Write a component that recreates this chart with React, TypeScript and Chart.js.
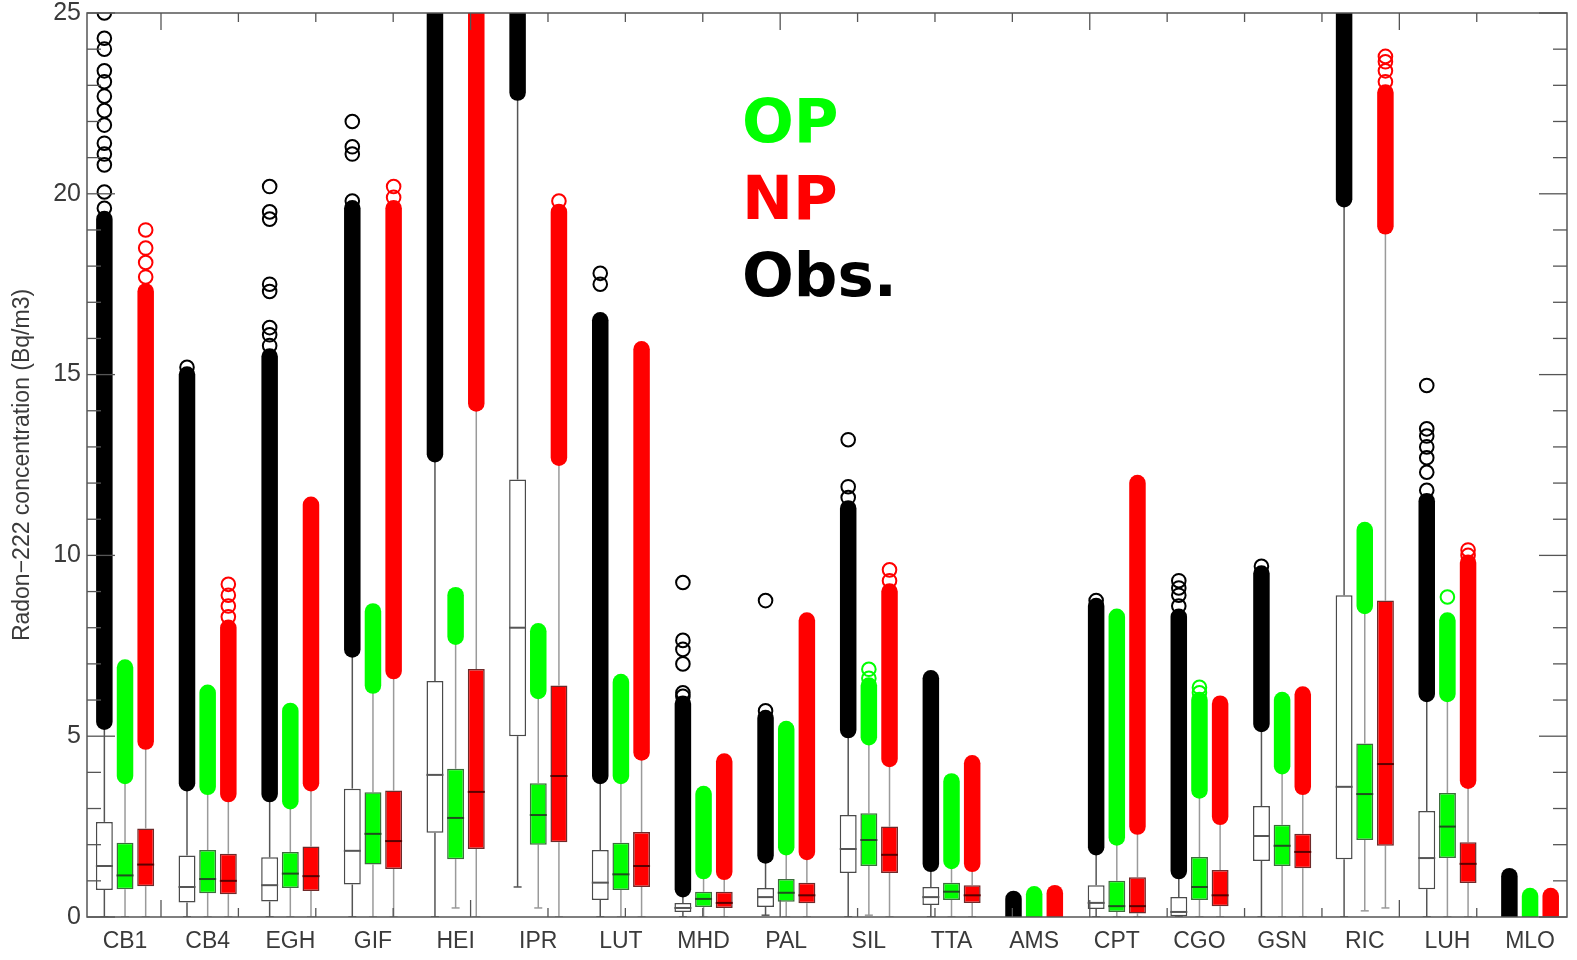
import React, { useEffect, useRef } from 'react';
import { Chart, registerables } from 'chart.js';

Chart.register(...registerables);

// ---------- categories ----------
const stations = ['CB1', 'CB4', 'EGH', 'GIF', 'HEI', 'IPR', 'LUT', 'MHD', 'PAL', 'SIL', 'TTA', 'AMS', 'CPT', 'CGO', 'GSN', 'RIC', 'LUH', 'MLO'];

// axis tick values
const yTickValues = [0, 1, 2, 3, 4, 5, 6, 7, 8, 9, 10, 11, 12, 13, 14, 15, 16, 17, 18, 19, 20, 21, 22, 23, 24, 25];
const yMajorTicks = [0, 5, 10, 15, 20, 25];
const xFrameTicks = [0, 1, 2, 3, 4, 5, 6, 7, 8, 9, 10, 11, 12, 13, 14, 15, 16, 17];
const xFrameMajor = [0, 4, 8, 12, 16];

// ---------- Obs. ----------
const obsWhiskerLow = [0, 0, 0, 0, 0, 0.83, 0, 0, 0.05, 0, 0, null, 0, 0, 0, 0, 0, null];
const obsQ1 = [0.75, 0.4, 0.43, 0.9, 2.33, 5.0, 0.47, 0.14, 0.28, 1.22, 0.33, null, 0.22, 0.02, 1.55, 1.6, 0.77, null];
const obsMedian = [1.41, 0.83, 0.88, 1.83, 3.93, 8.0, 0.95, 0.25, 0.55, 1.88, 0.55, null, 0.39, 0.14, 2.24, 3.6, 1.63, null];
const obsQ3 = [2.63, 1.7, 1.65, 3.55, 6.53, 12.1, 1.85, 0.39, 0.8, 2.82, 0.83, null, 0.88, 0.55, 3.07, 8.9, 2.93, null];
const obsWhiskerHigh = [5.4, 3.7, 3.4, 7.4, 12.8, 22.8, 3.9, 0.77, 1.7, 5.17, 1.47, 0, 1.93, 1.27, 5.34, 19.85, 6.17, 0];
const obsOutlierTop = [19.3, 15.0, 15.5, 19.6, 26, 26, 16.5, 5.9, 5.5, 11.3, 6.6, 0.5, 8.6, 8.3, 9.5, 26, 11.5, 1.13];
const obsSparse = [
  [19.6, 20.05, 20.8, 21.1, 21.4, 21.9, 22.3, 22.7, 23.1, 23.4, 24.0, 24.3, 25.0],
  [15.2],
  [15.8, 16.1, 16.3, 17.3, 17.5, 19.3, 19.5, 20.2],
  [19.8, 21.1, 21.3, 22.0],
  [],
  [],
  [17.5, 17.8],
  [6.1, 6.2, 7.0, 7.4, 7.65, 9.25],
  [5.7, 8.75],
  [11.6, 11.9, 13.2],
  [],
  [],
  [8.75],
  [8.6, 8.9, 9.1, 9.3],
  [9.7],
  [],
  [11.8, 12.3, 12.7, 13.0, 13.3, 13.5, 14.7],
  [],
];

// ---------- OP ----------
const opWhiskerLow = [0, 0, 0, 0, 0.25, 0.25, 0, 0, 0, 0.05, 0, null, 0, 0, 0, 0.17, 0, null];
const opQ1 = [0.77, 0.66, 0.8, 1.45, 1.6, 2.0, 0.75, 0.28, 0.42, 1.41, 0.47, null, 0.14, 0.47, 1.41, 2.13, 1.63, null];
const opMedian = [1.15, 1.05, 1.2, 2.3, 2.74, 2.82, 1.18, 0.5, 0.67, 2.13, 0.7, null, 0.3, 0.83, 1.97, 3.4, 2.5, null];
const opQ3 = [2.05, 1.85, 1.8, 3.45, 4.1, 3.7, 2.05, 0.7, 1.05, 2.87, 0.95, null, 1.0, 1.66, 2.55, 4.8, 3.43, null];
const opWhiskerHigh = [3.9, 3.6, 3.2, 6.4, 7.75, 6.25, 3.9, 1.27, 1.93, 4.97, 1.55, 0, 2.2, 3.5, 4.17, 8.6, 6.17, 0];
const opOutlierTop = [6.9, 6.2, 5.7, 8.45, 8.9, 7.9, 6.5, 3.4, 5.2, 6.4, 3.75, 0.63, 8.3, 6.0, 6.0, 10.7, 8.2, 0.58];
const opSparse = [[], [], [], [], [], [], [], [], [], [6.6, 6.85], [], [], [], [6.2, 6.35], [], [], [8.85], []];

// ---------- NP ----------
const npWhiskerLow = [0, 0, 0, 0, 0, 0, 0, 0, 0, 0, 0, null, 0, 0, 0, 0.25, 0, null];
const npQ1 = [0.85, 0.63, 0.72, 1.33, 1.88, 2.07, 0.83, 0.25, 0.38, 1.22, 0.39, null, 0.1, 0.3, 1.35, 1.97, 0.94, null];
const npMedian = [1.45, 1.0, 1.13, 2.1, 3.46, 3.9, 1.41, 0.39, 0.6, 1.72, 0.6, null, 0.3, 0.6, 1.8, 4.23, 1.47, null];
const npQ3 = [2.45, 1.75, 1.95, 3.5, 6.86, 6.4, 2.35, 0.7, 0.95, 2.5, 0.88, null, 1.1, 1.3, 2.3, 8.75, 2.07, null];
const npWhiskerHigh = [4.85, 3.4, 3.7, 6.8, 14.2, 12.7, 4.55, 1.25, 1.8, 4.37, 1.47, 0, 2.5, 2.77, 3.6, 19.1, 3.77, 0];
const npOutlierTop = [17.3, 8.0, 11.4, 19.6, 26, 19.5, 15.7, 4.3, 8.2, 9.0, 4.25, 0.66, 12.0, 5.9, 6.15, 22.8, 9.8, 0.58];
const npSparse = [
  [17.7, 18.1, 18.5, 19.0],
  [8.3, 8.6, 8.9, 9.2],
  [], [19.9, 20.2], [], [19.8], [], [], [], [9.3, 9.6], [], [], [], [], [], [23.1, 23.4, 23.65, 23.8], [10.0, 10.15], [],
];

type Series = {
  label: string;
  color: string;
  boxFill: string;
  boxBorder: string;
  whisker: string;
  median: string;
  wl: (number | null)[];
  q1: (number | null)[];
  med: (number | null)[];
  q3: (number | null)[];
  wh: number[];
  top: number[];
  sparse: number[][];
};

const seriesList: Series[] = [
  { label: 'Obs.', color: '#000000', boxFill: '#ffffff', boxBorder: '#4a4a4a', whisker: '#555555', median: '#555555',
    wl: obsWhiskerLow, q1: obsQ1, med: obsMedian, q3: obsQ3, wh: obsWhiskerHigh, top: obsOutlierTop, sparse: obsSparse },
  { label: 'OP', color: '#00ff00', boxFill: '#00ff00', boxBorder: '#3c6e3c', whisker: '#9a9a9a', median: '#1f4f1f',
    wl: opWhiskerLow, q1: opQ1, med: opMedian, q3: opQ3, wh: opWhiskerHigh, top: opOutlierTop, sparse: opSparse },
  { label: 'NP', color: '#ff0000', boxFill: '#ff0000', boxBorder: '#6e2a2a', whisker: '#9a9a9a', median: '#5a0000',
    wl: npWhiskerLow, q1: npQ1, med: npMedian, q3: npQ3, wh: npWhiskerHigh, top: npOutlierTop, sparse: npSparse },
];

const legendItems = [
  { text: 'OP', color: '#00ff00' },
  { text: 'NP', color: '#ff0000' },
  { text: 'Obs.', color: '#000000' },
];

const line = (ctx: CanvasRenderingContext2D, x1: number, y1: number, x2: number, y2: number) => {
  ctx.beginPath();
  ctx.moveTo(x1, y1);
  ctx.lineTo(x2, y2);
  ctx.stroke();
};

const boxPlugin = {
  id: 'boxExtras',
  beforeDatasetsDraw(chart: any) {
    const { ctx, chartArea } = chart;
    const y = chart.scales.y;
    ctx.save();
    ctx.beginPath();
    ctx.rect(chartArea.left, chartArea.top, chartArea.right - chartArea.left, chartArea.bottom - chartArea.top);
    ctx.clip();
    seriesList.forEach((s, di) => {
      const meta = chart.getDatasetMeta(di);
      meta.data.forEach((el: any, j: number) => {
        const x = el.x;
        if (s.q1[j] != null) {
          ctx.strokeStyle = s.whisker;
          ctx.lineWidth = 1.5;
          ctx.lineCap = 'butt';
          line(ctx, x, y.getPixelForValue(s.wl[j]), x, y.getPixelForValue(s.q1[j]));
          line(ctx, x, y.getPixelForValue(s.q3[j]), x, y.getPixelForValue(s.wh[j]));
          const py = y.getPixelForValue(s.wl[j]);
          line(ctx, x - 4, py, x + 4, py);
        }
        ctx.strokeStyle = s.color;
        ctx.lineCap = 'round';
        ctx.lineWidth = 16.5;
        line(ctx, x, y.getPixelForValue(s.wh[j]), x, y.getPixelForValue(s.top[j]));
        ctx.lineWidth = 2;
        s.sparse[j].forEach((v) => {
          ctx.beginPath();
          ctx.arc(x, y.getPixelForValue(v), 6.8, 0, Math.PI * 2);
          ctx.stroke();
        });
      });
    });
    ctx.restore();
  },
  afterDatasetsDraw(chart: any) {
    const { ctx } = chart;
    const y = chart.scales.y;
    ctx.save();
    seriesList.forEach((s, di) => {
      const meta = chart.getDatasetMeta(di);
      meta.data.forEach((el: any, j: number) => {
        if (s.med[j] == null) return;
        const half = el.width / 2;
        ctx.strokeStyle = s.median;
        ctx.lineWidth = 2;
        const py = y.getPixelForValue(s.med[j]);
        line(ctx, el.x - half, py, el.x + half, py);
      });
    });
    ctx.restore();
  },
  afterDraw(chart: any) {
    const { ctx, chartArea } = chart;
    const { left, right, top, bottom } = chartArea;
    const y = chart.scales.y;
    const x2 = chart.scales.x2;
    ctx.save();
    ctx.strokeStyle = '#555555';
    ctx.lineWidth = 1.5;
    ctx.lineCap = 'butt';
    ctx.strokeRect(left, top, right - left, bottom - top);
    ctx.lineWidth = 1.3;
    yTickValues.forEach((v) => {
      const len = yMajorTicks.includes(v) ? 28 : 14;
      const py = y.getPixelForValue(v);
      line(ctx, left, py, left + len, py);
      line(ctx, right, py, right - len, py);
    });
    xFrameTicks.forEach((k) => {
      const len = xFrameMajor.includes(k) ? 17 : 9;
      const px = x2.getPixelForValue(k);
      line(ctx, px, top, px, top + len);
      line(ctx, px, bottom, px, bottom - len);
    });
    ctx.font = 'bold 61px "DejaVu Sans"';
    ctx.textBaseline = 'alphabetic';
    ctx.textAlign = 'left';
    legendItems.forEach((it, i) => {
      ctx.fillStyle = it.color;
      ctx.fillText(it.text, 742, 142 + i * 77);
    });
    ctx.restore();
  },
};

export default function App() {
  const ref = useRef<HTMLCanvasElement | null>(null);
  useEffect(() => {
    if (!ref.current) return;
    const datasets = seriesList.map((s) => ({
      label: s.label,
      xAxisID: 'x',
      yAxisID: 'y',
      data: stations.map((_, i) => ({ x: i, y: s.q1[i] == null ? null : [s.q1[i], s.q3[i]] })),
      backgroundColor: s.boxFill,
      borderColor: s.boxBorder,
      borderWidth: 1.5,
      borderSkipped: false,
      barPercentage: 0.82,
      categoryPercentage: 0.75,
    }));
    const chart = new Chart(ref.current, {
      type: 'bar',
      data: { datasets } as any,
      options: {
        responsive: false,
        animation: false,
        devicePixelRatio: 1,
        layout: { padding: { top: 13, right: 10, left: 0, bottom: 0 } },
        plugins: { legend: { display: false }, tooltip: { enabled: false } },
        scales: {
          x: {
            type: 'linear',
            position: 'bottom',
            min: -0.46,
            max: 17.447,
            offset: false,
            grid: { display: false, drawTicks: false },
            border: { display: false },
            afterBuildTicks: (s: any) => {
              s.ticks = stations.map((_, i) => ({ value: i }));
            },
            afterFit: (s: any) => {
              s.height = 43;
              s.paddingLeft = 0;
              s.paddingRight = 0;
            },
            ticks: {
              autoSkip: false,
              maxRotation: 0,
              padding: 11,
              color: '#3a3a3a',
              font: { family: '"Liberation Sans", Arial, sans-serif', size: 23 },
              callback: (v: any) => stations[v] ?? '',
            },
          },
          x2: {
            type: 'linear',
            display: false,
            position: 'top',
            min: 0,
            max: 17.21,
          },
          y: {
            type: 'linear',
            min: 0,
            max: 25,
            grid: { display: false, drawTicks: false },
            border: { display: false },
            afterFit: (s: any) => {
              s.width = 87;
              s.paddingTop = 0;
              s.paddingBottom = 0;
            },
            ticks: {
              stepSize: 5,
              padding: 6,
              color: '#3a3a3a',
              font: { family: '"Liberation Sans", Arial, sans-serif', size: 25 },
            },
            title: {
              display: true,
              text: 'Radon\u2212222 concentration (Bq/m3)',
              color: '#3a3a3a',
              font: { family: '"Liberation Sans", Arial, sans-serif', size: 23 },
              padding: { top: 9, bottom: 0 },
            },
          },
        },
      } as any,
      plugins: [boxPlugin],
    });
    return () => chart.destroy();
  }, []);
  return (
    <div style={{ position: 'fixed', left: 0, top: 0, width: 1577, height: 960, background: '#ffffff' }}>
      <canvas ref={ref} width={1577} height={960} style={{ width: 1577, height: 960, display: 'block' }} />
    </div>
  );
}
